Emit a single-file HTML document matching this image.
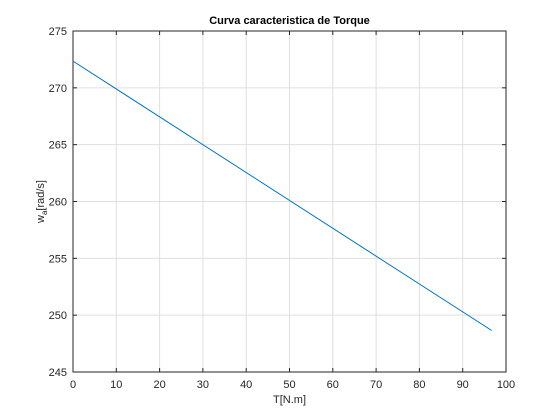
<!DOCTYPE html>
<html><head><meta charset="utf-8"><style>
body{margin:0;background:#fff;}
svg{display:block;font-family:"Liberation Sans",sans-serif;}
</style></head><body>
<svg id="chart" width="560" height="420"></svg>
<script>
const xTicks=[0,10,20,30,40,50,60,70,80,90,100];
const yTicks=[245,250,255,260,265,270,275];
const torque=[0,96.7];
const speed=[272.35,248.65];
const L=73,R=506,T=31,B=372;
const X=v=>L+(v-0)/(100-0)*(R-L);
const Y=v=>B-(v-245)/(275-245)*(B-T);
const s=document.getElementById('chart');
const NS='http://www.w3.org/2000/svg';
function mk(t,a,p){const e=document.createElementNS(NS,t);for(const k in a)e.setAttribute(k,a[k]);(p||s).appendChild(e);return e;}
const bg=mk('rect',{x:L,y:T,width:R-L,height:B-T,fill:'#fff'});


xTicks.forEach(v=>{
 const g=mk('line',{x1:X(v),x2:X(v),y1:T,y2:B,stroke:'#dfdfdf','stroke-width':1});
 
 
 mk('line',{x1:X(v),x2:X(v),y1:B,y2:B-4,stroke:'#262626'});
 mk('line',{x1:X(v),x2:X(v),y1:T,y2:T+4,stroke:'#262626'});
 const t=mk('text',{x:X(v),y:B+16,'text-anchor':'middle','font-size':11,fill:'#262626'});
 t.textContent=v;
 
 
});
yTicks.forEach(v=>{
 const g=mk('line',{x1:L,x2:R,y1:Y(v),y2:Y(v),stroke:'#dfdfdf','stroke-width':1});
 
 
 mk('line',{x1:L,x2:L+4,y1:Y(v),y2:Y(v),stroke:'#262626'});
 mk('line',{x1:R,x2:R-4,y1:Y(v),y2:Y(v),stroke:'#262626'});
 const t=mk('text',{x:L-6,y:Y(v)+4,'text-anchor':'end','font-size':11,fill:'#262626'});
 t.textContent=v;
 
 
});
const box=mk('rect',{x:L,y:T,width:R-L,height:B-T,fill:'none',stroke:'#262626','stroke-width':1});


const pts=torque.map((v,i)=>X(v)+','+Y(speed[i])).join(' ');
const line=mk('polyline',{points:pts,fill:'none',stroke:'#0072bd','stroke-width':1});


const title=mk('text',{x:(L+R)/2,y:24,'text-anchor':'middle','font-size':11,'font-weight':'bold',fill:'#000'});
title.textContent='Curva caracteristica de Torque';


const xl=mk('text',{x:(L+R)/2,y:403,'text-anchor':'middle','font-size':11,fill:'#262626'});
xl.textContent='T[N.m]';


const yl=mk('text',{x:0,y:0,'text-anchor':'middle','font-size':11,fill:'#262626',transform:'translate(44,'+((T+B)/2)+') rotate(-90)'});
yl.innerHTML='w<tspan font-size="8" dy="3">a</tspan><tspan dy="-3">[rad/s]</tspan>';


</script>
</body></html>
